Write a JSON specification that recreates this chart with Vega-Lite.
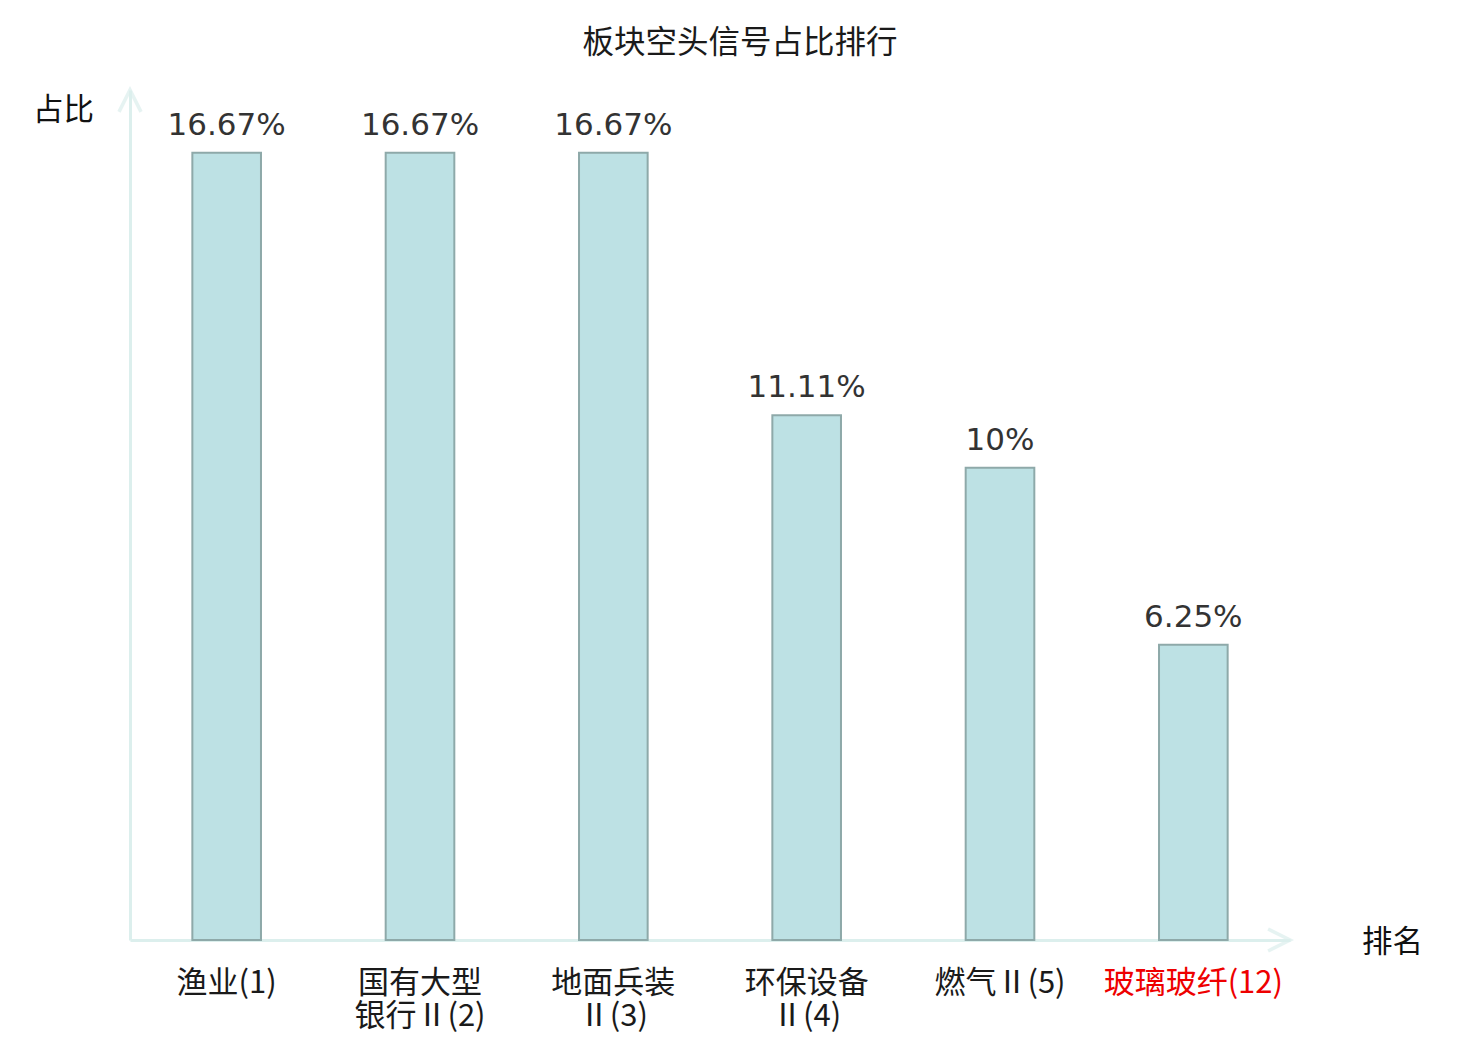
{
  "$schema": "https://vega.github.io/schema/vega-lite/v6.json",
  "width": 1160,
  "height": 850,
  "autosize": {"type": "none"},
  "padding": {"left": 130, "top": 90, "right": 190, "bottom": 100},
  "background": "white",
  "title": {
    "text": "板块空头信号占比排行",
    "font": "Noto Sans CJK SC",
    "fontSize": 31.5,
    "fontWeight": "normal",
    "color": "#1a1a1a",
    "anchor": "middle",
    "dx": 30,
    "offset": 23
  },
  "config": {
    "view": {"stroke": null},
    "font": "Noto Sans CJK SC"
  },
  "data": {
    "values": [
      {"name": "渔业(1)", "label": "渔业(1)", "pct": 16.67, "text": "16.67%"},
      {"name": "国有大型银行Ⅱ(2)", "label": "国有大型\n银行Ⅱ(2)", "pct": 16.67, "text": "16.67%"},
      {"name": "地面兵装Ⅱ(3)", "label": "地面兵装\nⅡ(3)", "pct": 16.67, "text": "16.67%"},
      {"name": "环保设备Ⅱ(4)", "label": "环保设备\nⅡ(4)", "pct": 11.11, "text": "11.11%"},
      {"name": "燃气Ⅱ(5)", "label": "燃气Ⅱ(5)", "pct": 10, "text": "10%"},
      {"name": "玻璃玻纤(12)", "label": "玻璃玻纤(12)", "pct": 6.25, "text": "6.25%"}
    ]
  },
  "encoding": {
    "x": {
      "field": "label",
      "type": "nominal",
      "sort": null,
      "scale": {"paddingInner": 0.645, "paddingOuter": 0.3225},
      "axis": {
        "title": "排名",
        "titleFont": "Noto Sans CJK SC",
        "titleFontSize": 30.5,
        "titleFontWeight": "normal",
        "titleColor": "#111",
        "titleAnchor": "start",
        "titleAlign": "center",
        "titleBaseline": "middle",
        "titleX": 1262,
        "titleY": 2,
        "labelExpr": "split(datum.label, '\\n')",
        "labelAngle": 0,
        "labelFont": "Noto Sans CJK SC",
        "labelFontSize": 31,
        "labelLineHeight": 33,
        "labelPadding": 28,
        "labelColor": {
          "condition": {"test": "indexof(datum.label, '玻璃') >= 0", "value": "#ee0000"},
          "value": "#1a1a1a"
        },
        "ticks": false,
        "domainColor": "#dcefed",
        "domainWidth": 3
      }
    },
    "y": {
      "field": "pct",
      "type": "quantitative",
      "scale": {"domain": [0, 18], "nice": false},
      "axis": {
        "title": "占比",
        "titleFont": "Noto Sans CJK SC",
        "titleFontSize": 30.5,
        "titleFontWeight": "normal",
        "titleColor": "#111",
        "titleAngle": 0,
        "titleAlign": "center",
        "titleBaseline": "middle",
        "titleX": -67,
        "titleY": 20,
        "labels": false,
        "ticks": false,
        "grid": false,
        "domainColor": "#dcefed",
        "domainWidth": 3
      }
    }
  },
  "layer": [
    {
      "mark": {"type": "bar", "fill": "#bde1e4", "stroke": "#8ea9a9", "strokeWidth": 2}
    },
    {
      "mark": {
        "type": "text",
        "font": "DejaVu Sans",
        "fontSize": 31,
        "color": "#333333",
        "baseline": "bottom",
        "dy": -11
      },
      "encoding": {"text": {"field": "text"}}
    },
    {
      "data": {"values": [{"arrow": "up"}]},
      "mark": {
        "type": "point",
        "shape": "M-1,1.9 L0,-0.1 L1,1.9",
        "filled": false,
        "stroke": "#dcefed",
        "strokeWidth": 3.5,
        "size": 484
      },
      "encoding": {
        "x": {"value": 0},
        "y": {"value": 1}
      }
    },
    {
      "data": {"values": [{"arrow": "right"}]},
      "mark": {
        "type": "point",
        "shape": "M-1.9,-1 L0.1,0 L-1.9,1",
        "filled": false,
        "stroke": "#dcefed",
        "strokeWidth": 3.5,
        "size": 484
      },
      "encoding": {
        "x": {"value": 1159},
        "y": {"value": {"expr": "height"}}
      }
    }
  ]
}
